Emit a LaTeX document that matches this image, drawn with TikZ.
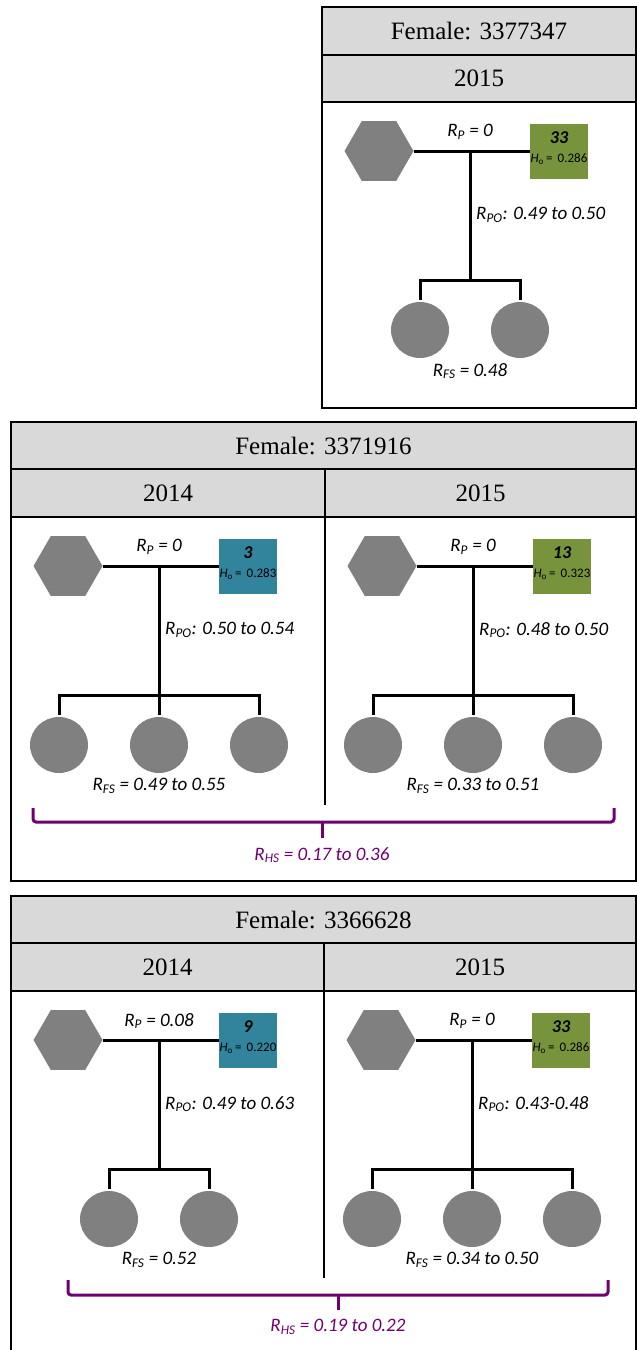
\documentclass[tikz,border=0pt]{standalone}
\usepackage{fontspec}
\setmainfont{Liberation Serif}
\newfontfamily\calib{Carlito}
\usetikzlibrary{positioning, calc, shapes.geometric}
\definecolor{shapegray}{HTML}{808080}
\definecolor{hdrgray}{HTML}{D9D9D9}
\definecolor{damgreen}{HTML}{77933C}
\definecolor{damblue}{HTML}{31849B}
\definecolor{sibpurple}{HTML}{700070}
\tikzset{
  hexa/.style={regular polygon, regular polygon sides=6, minimum size=69pt, inner sep=0pt, fill=shapegray},
  chick/.style={ellipse, minimum width=58pt, minimum height=56pt, inner sep=0pt, fill=shapegray},
  dam/.style={minimum width=58pt, minimum height=55pt, inner sep=0pt},
  link/.style={line width=3pt},
  lbl/.style={inner sep=0pt, font=\calib\itshape\fontsize{19}{22}\selectfont},
  hdr/.style={draw, fill=hdrgray, line width=1.2pt, inner sep=0pt, font=\fontsize{25}{28}\selectfont},
  brace/.style={line width=3pt, draw=sibpurple, rounded corners=3pt}
}
% #1 prefix, #2 shift, #3 colour, #4 number, #5 Ho, #6 R_P, #7 R_PO, #8 R_FS, #9 offspring offsets
\newcommand{\famtree}[9]{%
  \begin{scope}[shift={#2}]
    \node[hexa] (#1h) at (57,49) {};
    \node[dam, fill=#3] (#1d) at (237,49) {};
    \node[inner sep=0pt, font=\calib\bfseries\itshape\fontsize{18}{20}\selectfont] (#1n) at ([yshift=13pt]#1d.center) {#4};
    \node[inner sep=0pt, font=\calib\fontsize{13}{15}\selectfont] (#1ho) at ([yshift=-8pt]#1d.center) {\textit{H}\textsubscript{o}\,=\, #5};
    \draw[link] (#1h.east) -- (#1d.west);
    \coordinate (#1m) at (148,49);
    \coordinate (#1b) at (148,178);
    \draw[link] (#1m) -- (#1b);
    \foreach \o [count=\i] in {#9} {
      \node[chick] (#1c\i) at (148+\o,228) {};
      \draw[link, shorten <=2pt] (#1c\i.north) |- (#1b);
    }
    \node[lbl] (#1rp) at ([yshift=19pt]#1m) {R\textsubscript{P} = #6};
    \node[lbl, anchor=west] (#1rpo) at (154,113) {R\textsubscript{PO}: #7};
    \node[lbl] (#1rfs) at (148,269) {R\textsubscript{FS} = #8};
  \end{scope}
}

\begin{document}
\begin{tikzpicture}[x=1pt, y=-1pt]
  \useasboundingbox (0,0) rectangle (637,1350);

  % Female 3377347
  \node[hdr, minimum width=314pt, minimum height=48pt] (t1) at (479,31) {Female: 3377347};
  \node[hdr, minimum width=314pt, minimum height=47pt] (y1) at (479,78.5) {2015};
  \draw[line width=1.2pt] (322,102) rectangle (636,408);
  \famtree{a}{(322,102)}{damgreen}{33}{0.286}{0}{0.49 to 0.50}{0.48}{-50,50}

  % Female 3371916
  \node[hdr, minimum width=625pt, minimum height=47pt] (t2) at (323.5,445.5) {Female: 3371916};
  \node[hdr, minimum width=314pt, minimum height=48pt] (y2a) at (168,493) {2014};
  \node[hdr, minimum width=311pt, minimum height=48pt] (y2b) at (480.5,493) {2015};
  \draw[line width=1.2pt] (11,517) rectangle (636,881);
  \draw[line width=1.2pt] (325,517) -- (325,805);
  \famtree{b}{(11,517)}{damblue}{3}{0.283}{0}{0.50 to 0.54}{0.49 to 0.55}{-100,0,100}
  \famtree{c}{(325,517)}{damgreen}{13}{0.323}{0}{0.48 to 0.50}{0.33 to 0.51}{-100,0,100}
  \draw[brace] (33,808) -- (33,822) -- (614,822) -- (614,808);
  \draw[line width=3pt, draw=sibpurple] (322,822) -- (322,838);
  \node[lbl, text=sibpurple] (hs2) at (322,855) {R\textsubscript{HS} = 0.17 to 0.36};

  % Female 3366628
  \node[hdr, minimum width=625pt, minimum height=47pt] (t3) at (323.5,919.5) {Female: 3366628};
  \node[hdr, minimum width=313pt, minimum height=48pt] (y3a) at (167.5,967) {2014};
  \node[hdr, minimum width=312pt, minimum height=48pt] (y3b) at (480,967) {2015};
  \draw[line width=1.2pt] (11,991) rectangle (636,1380);
  \draw[line width=1.2pt] (324,991) -- (324,1278);
  \famtree{d}{(11,991)}{damblue}{9}{0.220}{0.08}{0.49 to 0.63}{0.52}{-50,50}
  \famtree{e}{(324,991)}{damgreen}{33}{0.286}{0}{0.43-0.48}{0.34 to 0.50}{-100,0,100}
  \draw[brace] (68,1280) -- (68,1295) -- (608,1295) -- (608,1280);
  \draw[line width=3pt, draw=sibpurple] (338,1295) -- (338,1310);
  \node[lbl, text=sibpurple] (hs3) at (338,1327) {R\textsubscript{HS} = 0.19 to 0.22};
\end{tikzpicture}
\end{document}
